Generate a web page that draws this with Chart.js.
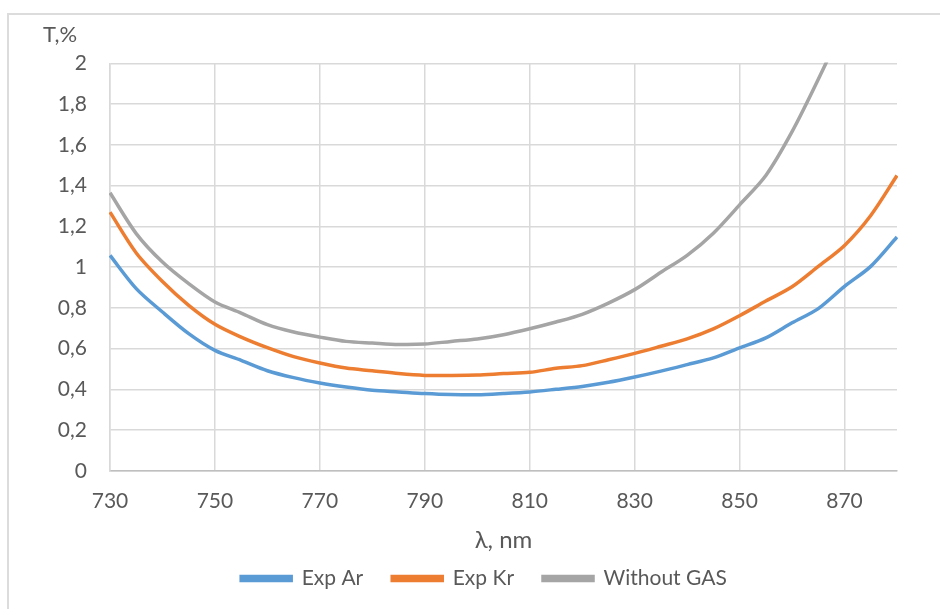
<!DOCTYPE html>
<html>
<head>
<meta charset="utf-8">
<title>T vs wavelength</title>
<script src="https://cdn.jsdelivr.net/npm/chart.js@4.4.1/dist/chart.umd.min.js"></script>
<style>
  html, body { margin: 0; padding: 0; background: #fff; }
  #frame {
    position: absolute; left: 7px; top: 13px; width: 960px; height: 620px;
    border-left: 2px solid #dcdcdc; border-top: 2px solid #dcdcdc;
  }
  #chart { position: absolute; left: 0; top: 0; }
</style>
</head>
<body>
<div id="frame"></div>
<canvas id="chart" width="940" height="609"></canvas>
<script>
  const wavelengths = [730, 735, 740, 745, 750, 755, 760, 765, 770, 775, 780, 785, 790, 795, 800,
    805, 810, 815, 820, 825, 830, 835, 840, 845, 850, 855, 860, 865, 870, 875, 880];

  const expAr = [1.058, 0.895, 0.78, 0.674, 0.592, 0.543, 0.492, 0.458, 0.432, 0.412, 0.396, 0.388,
    0.38, 0.375, 0.374, 0.38, 0.388, 0.401, 0.415, 0.435, 0.461, 0.49, 0.522, 0.555, 0.604, 0.653,
    0.727, 0.797, 0.906, 1.004, 1.148];

  const expKr = [1.27, 1.07, 0.93, 0.813, 0.72, 0.657, 0.605, 0.561, 0.53, 0.505, 0.492, 0.478,
    0.469, 0.469, 0.471, 0.478, 0.484, 0.504, 0.517, 0.546, 0.577, 0.612, 0.648, 0.697, 0.762,
    0.834, 0.904, 1.004, 1.107, 1.254, 1.45];

  // last points run off the top of the axis (clipped at 2)
  const withoutGas = [1.365, 1.165, 1.025, 0.919, 0.829, 0.775, 0.718, 0.682, 0.657, 0.636, 0.628,
    0.621, 0.623, 0.636, 0.648, 0.669, 0.698, 0.731, 0.769, 0.824, 0.89, 0.975, 1.058, 1.167, 1.306,
    1.45, 1.665, 1.922, 2.2, 2.5, 2.85];

  const seriesNames = ["Exp Ar", "Exp Kr", "Without GAS"];
  const xTicks = [730, 750, 770, 790, 810, 830, 850, 870];
  const yTicks = [0, 0.2, 0.4, 0.6, 0.8, 1, 1.2, 1.4, 1.6, 1.8, 2];

  const colors = {
    ar: "#5b9bd5",
    kr: "#ed7d31",
    gas: "#a5a5a5",
    grid: "#d9d9d9",
    axis: "#bfbfbf",
    text: "#595959",
  };

  const FONT = "Lato, 'Open Sans', sans-serif";
  Chart.defaults.font.family = FONT;
  Chart.defaults.color = colors.text;

  function points(ys) {
    return wavelengths.map((w, i) => ({ x: w, y: ys[i] }));
  }

  function series(label, ys, color) {
    return {
      label,
      data: points(ys),
      borderColor: color,
      backgroundColor: color,
      borderWidth: 3.5,
      pointRadius: 0,
      tension: 0.3,
      clip: 1,
    };
  }

  const fmtComma = (v) => String(Number(v.toFixed(1))).replace(".", ",");

  // legend sits a bit right of the canvas centre in the original
  const shiftLegend = {
    id: "shiftLegend",
    afterUpdate(chart) {
      chart.legend.left += 14;
      chart.legend.right += 14;
    },
  };

  new Chart(document.getElementById("chart"), {
    type: "line",
    data: {
      datasets: [
        series(seriesNames[0], expAr, colors.ar),
        series(seriesNames[1], expKr, colors.kr),
        series(seriesNames[2], withoutGas, colors.gas),
      ],
    },
    plugins: [shiftLegend],
    options: {
      responsive: false,
      animation: false,
      layout: { padding: { left: 43, right: 43, top: 13, bottom: 10 } },
      plugins: {
        tooltip: { enabled: false },
        title: {
          display: true,
          text: "T,%",
          align: "start",
          color: colors.text,
          font: { size: 22, weight: "normal" },
          padding: { top: 9, bottom: 15 },
        },
        legend: {
          position: "bottom",
          labels: {
            boxWidth: 50,
            boxHeight: 4,
            padding: 29,
            color: colors.text,
            font: { size: 21 },
          },
        },
      },
      scales: {
        x: {
          type: "linear",
          min: 730,
          max: 880,
          afterBuildTicks: (s) => { s.ticks = xTicks.map((v) => ({ value: v })); },
          afterFit: (s) => { s.height = 68; },
          grid: { color: colors.grid, lineWidth: 1.5, drawTicks: false },
          border: { color: colors.axis, width: 1.5 },
          ticks: { padding: 18, font: { size: 21 }, color: colors.text, callback: (v) => String(v) },
          title: {
            display: true,
            text: "λ, nm",
            color: colors.text,
            font: { size: 24 },
            padding: { top: 0, bottom: -16 },
          },
        },
        y: {
          min: 0,
          max: 2,
          afterBuildTicks: (s) => { s.ticks = yTicks.map((v) => ({ value: v })); },
          afterFit: (s) => { s.width = 67; },
          grid: { color: colors.grid, lineWidth: 1.5, drawTicks: false },
          border: { color: colors.grid, width: 1.5 },
          ticks: { padding: 23, font: { size: 21 }, color: colors.text, callback: fmtComma },
        },
      },
    },
  });
</script>
</body>
</html>
